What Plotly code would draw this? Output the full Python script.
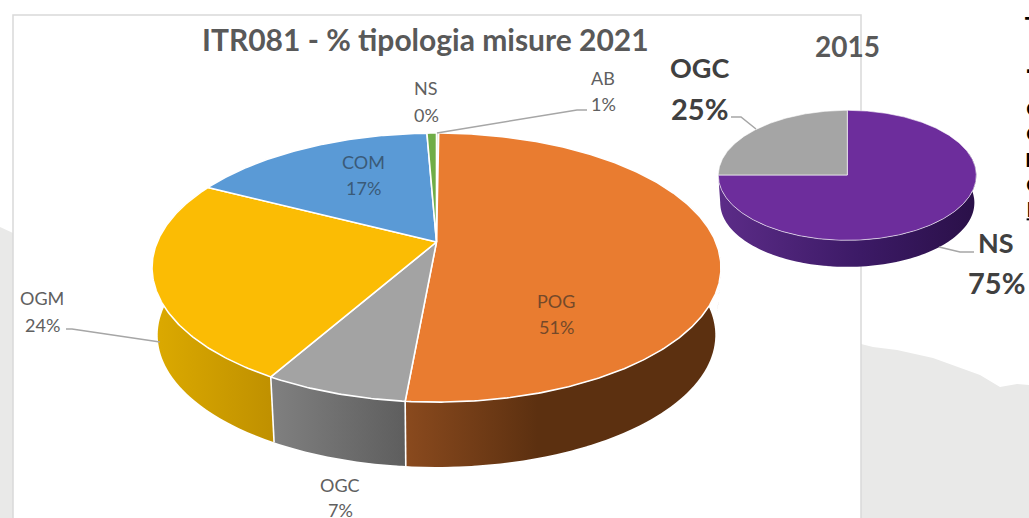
import numpy as np
import plotly.graph_objects as go

# ---- data ----
title_main = "ITR081 - % tipologia misure 2021"
title_small = "2015"
main_names = ["AB", "POG", "OGC", "OGM", "COM", "NS"]
main_values = [0.15, 51.3, 6.8, 24.3, 16.8, 0.65]
main_pct_text = ["1%", "51%", "7%", "24%", "17%", "0%"]
main_colors = ["#c3cfa6", "#e97c30", "#a3a3a3", "#fbbc04", "#5a9ad6", "#70ad47"]
small_names = ["NS", "OGC"]
small_values = [75, 25]
small_pct_text = ["75%", "25%"]
small_colors = ["#6d2d9c", "#a5a5a5"]
clipped_top = ["T", "."]
clipped_block = ["C", "C", "D", "C", "<u>k</u>"]

# ---- geometry of the two perspective discs (pixel-scaled axes) ----
BIG = dict(cx=436.5, cy=242, A=279.3, B=129.7, k=0.19, s=0.98, d=68)
SMALL = dict(cx=847.3, cy=175, A=129, B=65, k=0.005, s=0.985, d=27.5)


def rim(theta, g, bottom=False):
    t = np.radians(theta)
    den = 1 + g["k"] * np.cos(t)
    s, d = (g["s"], g["d"]) if bottom else (1, 0)
    return (g["cx"] + s * g["A"] * np.sin(t) / den,
            g["cy"] + d - s * g["B"] * np.cos(t) / den)


def edges(values):
    v = np.asarray(values, dtype=float)
    return np.concatenate([[0], np.cumsum(v) / v.sum() * 360])


def top_face(name, a, b, color, g):
    th = np.linspace(a, b, max(3, int(b - a) * 2))
    x, y = rim(th, g)
    return go.Scatter(x=[g["cx"], *x, g["cx"]], y=[g["cy"], *y, g["cy"]], fill="toself",
                      fillcolor=color, mode="lines", line=dict(color="white", width=1.6),
                      name=name, hoverinfo="name", showlegend=False)


def side_face(name, a, b, scale, g):
    # the wall is swept as overlapping quads so its outline follows the disc's tangents
    th = np.linspace(a, b, max(3, int(b - a)))
    xs, ys = [], []
    for i in range(len(th) - 1):
        j = min(i + 2, len(th) - 1)
        xa, ya = rim(th[[i, j]], g)
        xb, yb = rim(th[[j, i]], g, bottom=True)
        xs += [*xa, *xb, xa[0], None]
        ys += [*ya, *yb, ya[0], None]
    return go.Scatter(x=xs, y=ys, fill="toself",
                      fillgradient=dict(type="horizontal", colorscale=scale),
                      mode="lines", line=dict(width=0), name=name, hoverinfo="name",
                      showlegend=False)


def seam(theta, g):
    x1, y1 = rim(theta, g)
    x2, y2 = rim(theta, g, bottom=True)
    return go.Scatter(x=[x1, x2], y=[y1, y2], mode="lines", hoverinfo="skip",
                      line=dict(color="white", width=1.6), showlegend=False)


fig = go.Figure()
e = edges(main_values)
fig.add_trace(side_face("POG", 70, e[2], [[0, "#8a4a1e"], [0.42, "#5c3010"], [1, "#5c3010"]], BIG))
fig.add_trace(side_face("OGC", e[2], e[3], [[0, "#808080"], [1, "#5e5e5e"]], BIG))
fig.add_trace(side_face("OGM", e[3], 295, [[0, "#dcaa00"], [1, "#bf9000"]], BIG))
fig.add_trace(seam(e[2], BIG))
fig.add_trace(seam(e[3], BIG))
for i, n in enumerate(main_names):
    fig.add_trace(top_face(n, e[i], e[i + 1], main_colors[i], BIG))

e2 = edges(small_values)
fig.add_trace(side_face("NS", 70, e2[1], [[0, "#5c2c88"], [0.55, "#3c1a66"], [1, "#2a1048"]], SMALL))
for i, n in enumerate(small_names):
    fig.add_trace(top_face(n, e2[i], e2[i + 1], small_colors[i], SMALL))
for tr in fig.data[-2:]:
    tr.line.width = 0.6

FONT = "Lato, Carlito, 'Open Sans', sans-serif"
notes = []


def txt(x, y, s, size=18, color="#595959", bold=False, anchor="center", family=FONT):
    notes.append(dict(x=x, y=y, text=f"<b>{s}</b>" if bold else s, showarrow=False,
                      xanchor=anchor, yanchor="middle", xref="x", yref="y",
                      font=dict(family=family, size=size, color=color)))


txt(425, 39, title_main, size=30, bold=True)
txt(847, 46, title_small, size=28, bold=True)

# label positions for the big pie: name line x, y and pct line y
big_pos = {"AB": (603, 78, 104), "POG": (556, 301, 327), "OGC": (340, 485, 510),
           "OGM": (42, 298, 325), "COM": (363, 162, 188), "NS": (426, 88, 115)}
big_col = {"AB": "#606060", "POG": "#74492a", "OGC": "#606060", "OGM": "#606060",
           "COM": "#3a5a78", "NS": "#606060"}
for n, p in zip(main_names, main_pct_text):
    x, y1, y2 = big_pos[n]
    txt(x, y1, n, color=big_col[n])
    txt(x, y2, p, color=big_col[n])

small_pos = {"NS": (996, 242, 282), "OGC": (699, 67, 108)}
for n, p in zip(small_names, small_pct_text):
    x, y1, y2 = small_pos[n]
    txt(x, y1, n, size=27, color="#404040", bold=True)
    txt(x, y2, p, size=29, color="#404040", bold=True)

# letters cut off by the right edge of the slide
for s, y in zip(clipped_top, [24, 66]):
    txt(1023, y, s, size=20, color="#000000", bold=True, anchor="left",
        family="'DejaVu Sans', sans-serif")
txt(1023, 160, "<br>".join(clipped_block), size=19.5, color="#000000", bold=True, anchor="left",
    family="'DejaVu Sans', sans-serif")

shapes = [
    # grey mountain backdrop of the slide
    dict(type="path", layer="below", line=dict(width=0), fillcolor="#e9e9e8",
         path="M0,227 L13,233 L13,518 L0,518 Z"),
    dict(type="path", layer="below", line=dict(width=0), fillcolor="#e9e9e8",
         path="M861,344 L873,347 L897,350 L933,358 L980,375 L1000,387 L1017,384 L1029,385 "
              "L1029,518 L861,518 Z"),
    # chart frame
    dict(type="path", layer="below", line=dict(color="#d9d9d9", width=1.5), fillcolor="white",
         path="M13,520 L13,15 L861,15 L861,520 Z"),
]
leaders = ["M437,133 L577,110 L587,110", "M66,329 L72,329 L160,342",
           "M731,117 L741,117 L756,129", "M974,252 L960,252 L939,247"]
for p in leaders:
    shapes.append(dict(type="path", layer="above", path=p, line=dict(color="#a6a6a6", width=1.5)))

fig.update_layout(
    width=1029, height=518, margin=dict(l=0, r=0, t=0, b=0), showlegend=False,
    paper_bgcolor="white", plot_bgcolor="rgba(0,0,0,0)",
    xaxis=dict(range=[0, 1029], visible=False, fixedrange=True),
    yaxis=dict(range=[518, 0], visible=False, fixedrange=True),
    annotations=notes, shapes=shapes,
)
fig.write_html("out.html", post_script="document.body.style.margin='0';",
               config={"displayModeBar": False})
